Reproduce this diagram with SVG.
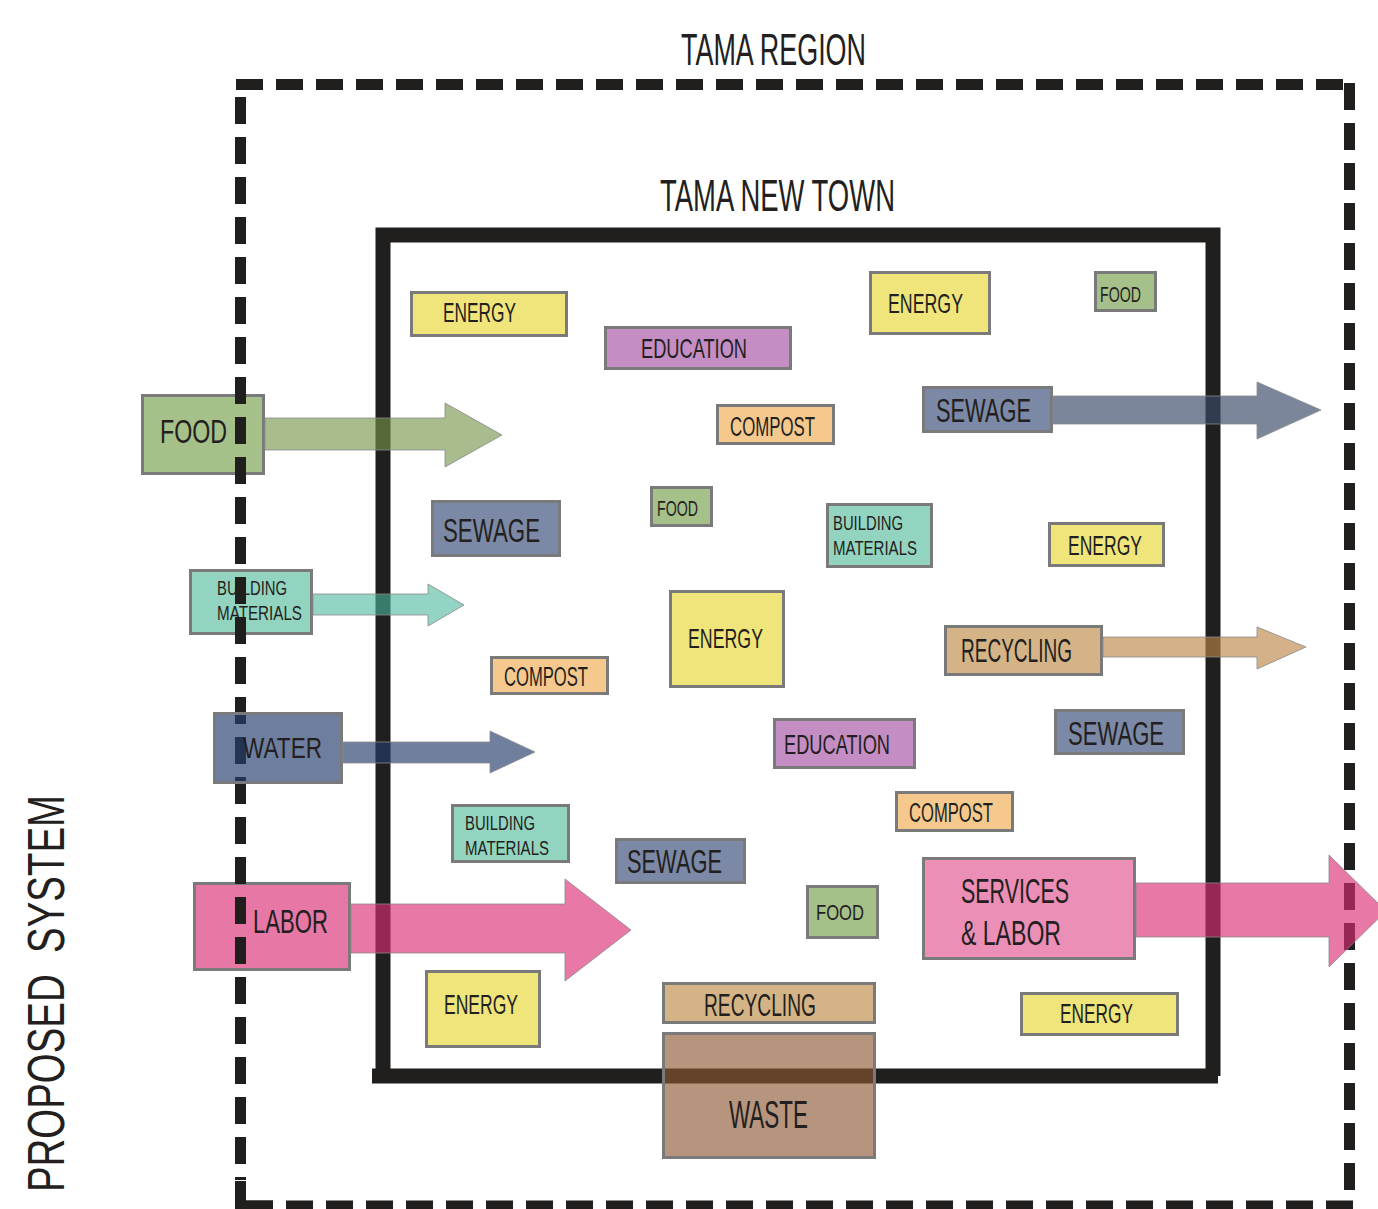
<svg xmlns="http://www.w3.org/2000/svg" width="1378" height="1209" viewBox="0 0 1378 1209">
<style>
text{font-family:"Liberation Sans Narrow","Liberation Sans",Arial,sans-serif;fill:#231f20}
.box{stroke:#7a7a7a;stroke-width:3}
.energy{fill:#efe57a}.edu{fill:#c48ec4}.food{fill:#a6c08a}.compost{fill:#f5c98d}
.sewage{fill:#7b89a6}.bm{fill:#93d4c0}.recyc{fill:#d4b386}.services{fill:#eb8fb6}.labor{fill:#e777a4}
.arrow{stroke:#8a8a8a;stroke-width:1;stroke-opacity:0.8}
.dash{stroke:#201f1d;stroke-width:11;stroke-dasharray:27 13;fill:none}
.frame{stroke:#201f1d;stroke-width:15;fill:none}
</style>
<rect width="1378" height="1209" fill="#ffffff"/>
<g id="titles">
<text x="681" y="65" font-size="44" textLength="185" lengthAdjust="spacingAndGlyphs">TAMA REGION</text>
<text x="660" y="211" font-size="44" textLength="235" lengthAdjust="spacingAndGlyphs">TAMA NEW TOWN</text>
<text transform="translate(64,1192) rotate(-90)" font-size="52" textLength="397" lengthAdjust="spacingAndGlyphs" xml:space="preserve">PROPOSED  SYSTEM</text>
</g>
<g id="tama-new-town-frame">
<polyline class="frame" points="383,1083 383,235 1213,235 1213,1076"/>
<line class="frame" x1="372" y1="1076" x2="1218" y2="1076"/>
</g>
<g id="node-food-in">
<rect class="box food" x="142.5" y="395.5" width="121" height="78"/>
<text x="160" y="443" font-size="33" textLength="67" lengthAdjust="spacingAndGlyphs">FOOD</text>
</g>
<g id="node-building-in">
<rect class="box bm" x="190.5" y="570.5" width="121" height="63"/>
<text x="217" y="595" font-size="20" textLength="70" lengthAdjust="spacingAndGlyphs">BUILDING</text>
<text x="217" y="620" font-size="20" textLength="85" lengthAdjust="spacingAndGlyphs">MATERIALS</text>
</g>
<g id="node-labor-in">
<rect class="box labor" x="194.5" y="883.5" width="155" height="86"/>
<text x="253" y="933" font-size="33" textLength="75" lengthAdjust="spacingAndGlyphs">LABOR</text>
</g>
<g id="tama-region-frame">
<line class="dash" x1="236" y1="84.5" x2="1344" y2="84.5"/>
<line class="dash" x1="1349.5" y1="83" x2="1349.5" y2="1200"/>
<line class="dash" x1="246" y1="1206" x2="1357" y2="1206"/>
<line class="dash" x1="240.5" y1="97" x2="240.5" y2="1180"/>
<polyline points="240.5,1181 240.5,1206 273,1206" fill="none" stroke="#201f1d" stroke-width="11"/>
</g>
<g id="node-water-in">
<rect class="box" x="214.5" y="713.5" width="127" height="69" fill="#273f6e" fill-opacity="0.67"/>
<text x="243" y="758" font-size="30" textLength="79" lengthAdjust="spacingAndGlyphs">WATER</text>
</g>
<g id="node-energy-1"><rect class="box energy" x="411.5" y="292.5" width="155" height="43"/><text x="443" y="322" font-size="27" textLength="73" lengthAdjust="spacingAndGlyphs">ENERGY</text></g>
<g id="node-education-1"><rect class="box edu" x="605.5" y="327.5" width="185" height="41"/><text x="641" y="358" font-size="28" textLength="106" lengthAdjust="spacingAndGlyphs">EDUCATION</text></g>
<g id="node-energy-2"><rect class="box energy" x="870.5" y="272.5" width="119" height="61"/><text x="888" y="313" font-size="28" textLength="75" lengthAdjust="spacingAndGlyphs">ENERGY</text></g>
<g id="node-food-2"><rect class="box food" x="1095.5" y="272.5" width="60" height="38"/><text x="1100" y="302" font-size="22" textLength="41" lengthAdjust="spacingAndGlyphs">FOOD</text></g>
<g id="node-sewage-1"><rect class="box sewage" x="923.5" y="387.5" width="128" height="44"/><text x="936" y="422" font-size="34" textLength="95" lengthAdjust="spacingAndGlyphs">SEWAGE</text></g>
<g id="node-compost-1"><rect class="box compost" x="717.5" y="405.5" width="116" height="38"/><text x="730" y="436" font-size="27" textLength="85" lengthAdjust="spacingAndGlyphs">COMPOST</text></g>
<g id="node-sewage-2"><rect class="box sewage" x="432.5" y="501.5" width="127" height="54"/><text x="443" y="542" font-size="34" textLength="97" lengthAdjust="spacingAndGlyphs">SEWAGE</text></g>
<g id="node-food-3"><rect class="box food" x="651.5" y="487.5" width="60" height="38"/><text x="657" y="516" font-size="22" textLength="41" lengthAdjust="spacingAndGlyphs">FOOD</text></g>
<g id="node-building-2"><rect class="box bm" x="827.5" y="504.5" width="104" height="62"/><text x="833" y="530" font-size="20" textLength="70" lengthAdjust="spacingAndGlyphs">BUILDING</text><text x="833" y="555" font-size="20" textLength="84" lengthAdjust="spacingAndGlyphs">MATERIALS</text></g>
<g id="node-energy-3"><rect class="box energy" x="1049.5" y="523.5" width="114" height="42"/><text x="1068" y="555" font-size="28" textLength="74" lengthAdjust="spacingAndGlyphs">ENERGY</text></g>
<g id="node-energy-4"><rect class="box energy" x="670.5" y="591.5" width="113" height="95"/><text x="688" y="648" font-size="28" textLength="75" lengthAdjust="spacingAndGlyphs">ENERGY</text></g>
<g id="node-recycling-1"><rect class="box recyc" x="945.5" y="626.5" width="156" height="48"/><text x="961" y="662" font-size="34" textLength="111" lengthAdjust="spacingAndGlyphs">RECYCLING</text></g>
<g id="node-compost-2"><rect class="box compost" x="491.5" y="657.5" width="116" height="36"/><text x="504" y="686" font-size="27" textLength="84" lengthAdjust="spacingAndGlyphs">COMPOST</text></g>
<g id="node-education-2"><rect class="box edu" x="774.5" y="719.5" width="140" height="48"/><text x="784" y="754" font-size="28" textLength="106" lengthAdjust="spacingAndGlyphs">EDUCATION</text></g>
<g id="node-sewage-3"><rect class="box sewage" x="1055.5" y="710.5" width="128" height="43"/><text x="1068" y="745" font-size="34" textLength="96" lengthAdjust="spacingAndGlyphs">SEWAGE</text></g>
<g id="node-compost-3"><rect class="box compost" x="896.5" y="792.5" width="116" height="38"/><text x="909" y="822" font-size="27" textLength="84" lengthAdjust="spacingAndGlyphs">COMPOST</text></g>
<g id="node-building-3"><rect class="box bm" x="452.5" y="805.5" width="116" height="56"/><text x="465" y="830" font-size="20" textLength="70" lengthAdjust="spacingAndGlyphs">BUILDING</text><text x="465" y="855" font-size="20" textLength="84" lengthAdjust="spacingAndGlyphs">MATERIALS</text></g>
<g id="node-sewage-4"><rect class="box sewage" x="616.5" y="839.5" width="128" height="43"/><text x="627" y="873" font-size="34" textLength="95" lengthAdjust="spacingAndGlyphs">SEWAGE</text></g>
<g id="node-food-4"><rect class="box food" x="807.5" y="886.5" width="70" height="51"/><text x="816" y="920" font-size="22" textLength="48" lengthAdjust="spacingAndGlyphs">FOOD</text></g>
<g id="node-services-labor"><rect class="box services" x="923.5" y="858.5" width="211" height="100"/><text x="961" y="903" font-size="35" textLength="108" lengthAdjust="spacingAndGlyphs">SERVICES</text><text x="961" y="945" font-size="35" textLength="100" lengthAdjust="spacingAndGlyphs">&amp; LABOR</text></g>
<g id="node-energy-5"><rect class="box energy" x="426.5" y="971.5" width="113" height="75"/><text x="444" y="1014" font-size="28" textLength="74" lengthAdjust="spacingAndGlyphs">ENERGY</text></g>
<g id="node-recycling-2"><rect class="box recyc" x="663.5" y="983.5" width="211" height="39"/><text x="704" y="1016" font-size="32" textLength="112" lengthAdjust="spacingAndGlyphs">RECYCLING</text></g>
<g id="node-waste"><rect class="box" x="663.5" y="1033.5" width="211" height="124" fill="#8e5732" fill-opacity="0.635"/><text x="729" y="1128" font-size="38" textLength="79" lengthAdjust="spacingAndGlyphs">WASTE</text></g>
<g id="node-energy-6"><rect class="box energy" x="1021.5" y="993.5" width="156" height="41"/><text x="1060" y="1023" font-size="28" textLength="73" lengthAdjust="spacingAndGlyphs">ENERGY</text></g>
<g id="connectors">
<polygon class="arrow" points="265,418 445,418 445,403 502,435 445,467 445,450 265,450" fill="#77954b" fill-opacity="0.63"/>
<polygon class="arrow" points="313,594 428,594 428,584 464,605 428,626 428,615 313,615" fill="#4bb79e" fill-opacity="0.6"/>
<polygon class="arrow" points="343,742 490,742 490,731 535,752 490,773 490,763 343,763" fill="#263d6a" fill-opacity="0.66"/>
<polygon class="arrow" points="351,904 565,904 565,879 631,930 565,981 565,953 351,953" fill="#db2e75" fill-opacity="0.64"/>
<polygon class="arrow" points="1053,396 1257,396 1257,382 1321,410 1257,439 1257,424 1053,424" fill="#3c4b68" fill-opacity="0.67"/>
<polygon class="arrow" points="1103,637 1257,637 1257,627 1306,647 1257,669 1257,657 1103,657" fill="#bb8546" fill-opacity="0.64"/>
<polygon class="arrow" points="1136,883 1329,883 1329,855 1386,911 1329,967 1329,937 1136,937" fill="#db2e75" fill-opacity="0.64"/>
</g>
</svg>
